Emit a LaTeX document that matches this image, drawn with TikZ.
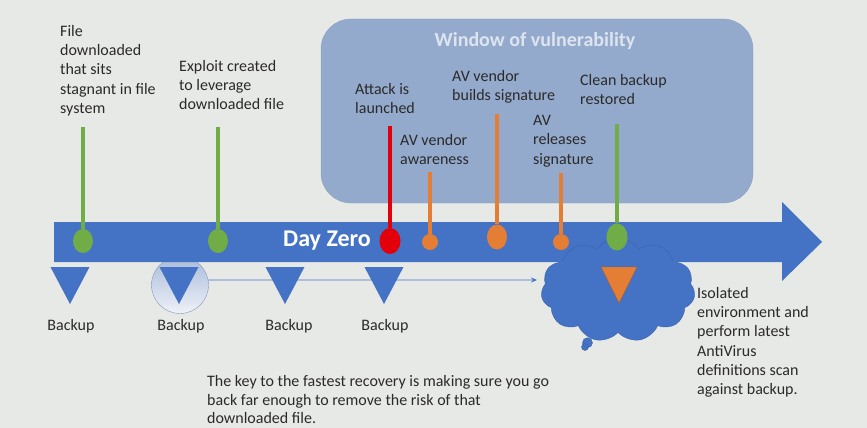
\documentclass[tikz,border=0pt]{standalone}
\usepackage{fontspec}
\setmainfont{Carlito}
\usepackage{tikz}
\usetikzlibrary{arrows.meta, calc, positioning, shapes.geometric, shapes.symbols, shapes.callouts}
\definecolor{bgGray}{HTML}{E7E9E6}
\definecolor{winBlue}{HTML}{94AACC}
\definecolor{winEdge}{HTML}{8AA2C8}
\definecolor{winTitle}{HTML}{DDE4F0}
\definecolor{bandBlue}{HTML}{4472C4}
\definecolor{cloudEdge}{HTML}{3B63AD}
\definecolor{pinGreen}{HTML}{70AD47}
\definecolor{pinRed}{HTML}{E4000B}
\definecolor{pinOrange}{HTML}{E57E35}
\definecolor{triEdge}{HTML}{A85A24}
\definecolor{ringTop}{HTML}{A9BBDA}
\definecolor{ringBottom}{HTML}{EEF1F7}
\definecolor{ringEdge}{HTML}{8498C0}
\definecolor{txtGray}{HTML}{2A2A2A}
\def\bandTop{222}
\def\bandBottom{262}
\def\headTop{202}
\def\headBottom{281}
\def\triTop{267}
\def\triTip{304}

\begin{document}
\begin{tikzpicture}[x=1pt, y=-1pt,
    lbl/.style={anchor=north west, inner sep=0pt, align=left, text=txtGray,
        font=\fontsize{16}{19.3}\selectfont},
    bklbl/.style={anchor=base, inner sep=0pt, text=txtGray, font=\fontsize{16}{19}\selectfont},
    dot/.style={ellipse, inner sep=0pt},
    stem/.style={line width=4pt}]
    % Background
    \fill[bgGray] (0,0) rectangle (867,428);
    \useasboundingbox (0,0) rectangle (867,428);

    % Window of vulnerability
    \node[draw=winEdge, fill=winBlue, rounded corners=30pt, minimum width=432pt,
        minimum height=184pt, inner sep=0pt] (window) at (537,111) {};
    \node[text=winTitle, font=\fontsize{20}{24}\selectfont\bfseries] (winTitle) at (535,41) {Window of vulnerability};

    % Ring behind second backup
    \node[circle, draw=ringEdge, top color=ringTop, bottom color=ringBottom,
        minimum size=57pt, inner sep=0pt] (ring) at (180,285) {};

    % Draw timeline arrow
    \fill[bandBlue] (54,\bandTop) -- (782,\bandTop) -- (782,\headTop) -- (822,242)
        -- (782,\headBottom) -- (782,\bandBottom) -- (54,\bandBottom) -- cycle;
    \node[text=white, font=\fontsize{24}{28}\selectfont\bfseries] (dayZero) at (327,241) {Day Zero};

    % Isolated environment cloud
    \node[cloud callout, cloud puffs=11, cloud puff arc=115, cloud ignores aspect,
        minimum width=154pt, minimum height=104pt, inner sep=0pt,
        fill=bandBlue, draw=cloudEdge,
        callout absolute pointer={(585,347)}, callout pointer start size=15pt and 13pt,
        callout pointer end size=8pt and 7pt, callout pointer segments=2] (cloud) at (618,290) {};
    \filldraw[fill=pinOrange, draw=triEdge] (601,\triTop) -- (637,\triTop) -- (619,303) -- cycle;

    % Draw pins
    \foreach \x/\ytop/\yc/\w/\h/\col [count=\i] in {83/127/241/20/24/pinGreen,
        218/127/241/20/24/pinGreen, 390/126/241/21/26/pinRed, 430/172/242/16/16/pinOrange,
        497/114/237/20/25/pinOrange, 561/173/242/16/16/pinOrange, 617/124/237/21/27/pinGreen} {
        \coordinate (top\i) at (\x,\ytop);
        \node[dot, fill=\col, minimum width=\w pt, minimum height=\h pt] (dot\i) at (\x,\yc) {};
        \draw[stem, draw=\col] (top\i) -- (dot\i.north);
    }

    % Draw backups
    \foreach \x/\lx [count=\i] in {70/71, 179/181, 285/289, 384/385} {
        \fill[bandBlue] (\x-19.5,\triTop) -- (\x+19.5,\triTop) -- (\x,\triTip) -- cycle;
        \node[bklbl] (backup\i) at (\lx,330) {Backup};
    }

    % Going back
    \coordinate (goBack) at (537,280);
    \draw[bandBlue, line width=0.8pt, -{Stealth[length=6pt, width=5pt]}] (ring.10) -- (goBack);

    % Labels
    \node[lbl] (fileLbl) at (60,25) {File\\downloaded\\that sits\\stagnant in file\\system};
    \node[lbl] (exploitLbl) at (179,60) {Exploit created\\to leverage\\downloaded file};
    \node[lbl] (attackLbl) at (355,83) {Attack is\\launched};
    \node[lbl] (awareLbl) at (400,134) {AV vendor\\awareness};
    \node[lbl] (buildLbl) at (452,70) {AV vendor\\builds signature};
    \node[lbl] (releaseLbl) at (533,115) {AV\\releases\\signature};
    \node[lbl] (cleanLbl) at (580,74) {Clean backup\\restored};
    \node[lbl] (isoLbl) at (697,287) {Isolated\\environment and\\perform latest\\AntiVirus\\definitions scan\\against backup.};
    \node[lbl, font=\fontsize{16}{18.7}\selectfont] (keyLbl) at (207,375) {The key to the fastest recovery is making sure you go\\back far enough to remove the risk of that\\downloaded file.};
\end{tikzpicture}
\end{document}
